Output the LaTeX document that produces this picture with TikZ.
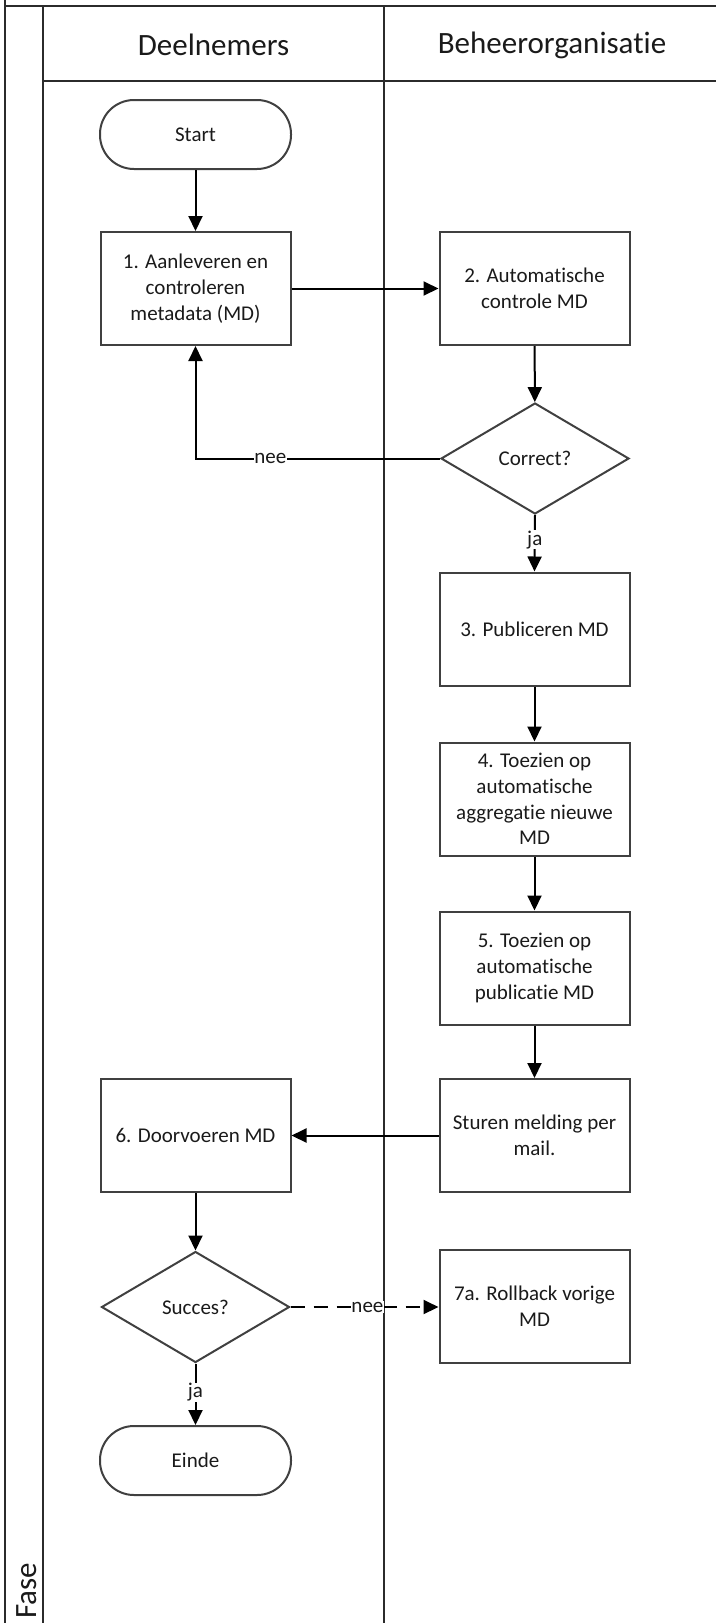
\documentclass[tikz,border=0pt]{standalone}
\usepackage{fontspec}
\setmainfont{Carlito}[Ligatures=NoCommon]
\usetikzlibrary{shapes.geometric,arrows.meta}
\newcommand\dgbody{\fontsize{21}{25.7}\selectfont}
\newcommand\dghead{\fontsize{31}{38}\selectfont}
\definecolor{framecol}{HTML}{2B2B2B}
\definecolor{shapecol}{HTML}{404040}
\definecolor{txtcol}{HTML}{1A1A1A}
\begin{document}
\begin{tikzpicture}[x=1pt,y=-1pt,
  frame/.style={line width=2pt, draw=framecol},
  proc/.style={rectangle, draw=shapecol, line width=2pt, minimum width=190pt, minimum height=113pt, align=center, font=\dgbody, text=txtcol, inner sep=2pt},
  term/.style={rectangle, rounded corners=34pt, draw=shapecol, line width=2pt, minimum width=191pt, minimum height=69pt, align=center, font=\dgbody, text=txtcol},
  decis/.style={diamond, aspect=1.68, draw=shapecol, line width=2pt, minimum width=188pt, minimum height=111pt, inner sep=0pt, align=center, font=\dgbody, text=txtcol},
  conn/.style={line width=2pt, draw=black, -{Triangle[length=15pt,width=14pt]}},
  lbl/.style={fill=white, inner sep=0.5pt, font=\dgbody, text=txtcol},
  headtxt/.style={font=\dghead, text=txtcol}
]
\useasboundingbox (0,0) rectangle (716,1623);
% pool and lanes
\draw[frame] (5,0) -- (5,1623);
\draw[frame] (4,5.5) -- (716,5.5);
\draw[frame] (43,5.5) -- (43,1623);
\draw[frame] (384,5.5) -- (384,1623);
\draw[frame] (43,81) -- (716,81);
\node[headtxt] (h1) at (213.5,45) {Deelnemers};
\node[headtxt] (h2) at (552,45) {Beheerorganisatie};
\node[headtxt, rotate=90, anchor=west, inner sep=0pt] (fase) at (27,1619) {Fase};
% shapes
\node[term] (start) at (195.5,134.5) {Start};
\node[proc] (b1) at (195.5,288.5) {1. Aanleveren en\\controleren\\metadata (MD)};
\node[proc] (b2) at (534.5,288.5) {2. Automatische\\controle MD};
\node[decis] (correct) at (535,458.5) {Correct?};
\node[proc] (b3) at (534.5,629) {3. Publiceren MD};
\node[proc] (b4) at (534.5,799) {4. Toezien op\\automatische\\aggregatie nieuwe\\MD};
\node[proc] (b5) at (534.5,968) {5. Toezien op\\automatische\\publicatie MD};
\node[proc] (sturen) at (534.5,1135.5) {Sturen melding per\\mail.};
\node[proc] (b6) at (195.5,1135.5) {6. Doorvoeren MD};
\node[decis] (succes) at (195.5,1307) {Succes?};
\node[proc] (b7) at (534.5,1306) {7a. Rollback vorige\\MD};
\node[term] (einde) at (195.5,1460.5) {Einde};
% connectors
\draw[conn] (start) -- (b1);
\draw[conn] (b1) -- (b2);
\draw[conn] (b2) -- (correct);
\draw[conn] (correct.west) -| node[lbl, pos=0.347] (nee1) {nee} (b1.south);
\draw[conn] (correct.south) -- node[lbl, pos=0.44] (ja1) {ja} (b3.north);
\draw[conn] (b3) -- (b4);
\draw[conn] (b4) -- (b5);
\draw[conn] (b5) -- (sturen);
\draw[conn] (sturen) -- (b6);
\draw[conn] (b6) -- (succes);
\draw[conn, dash pattern=on 14pt off 9pt] (succes.east) -- node[lbl, pos=0.52] (nee2) {nee} (b7.west |- succes.east);
\draw[conn] (succes.south) -- node[lbl, pos=0.47] (ja2) {ja} (einde.north);
\end{tikzpicture}
\end{document}
